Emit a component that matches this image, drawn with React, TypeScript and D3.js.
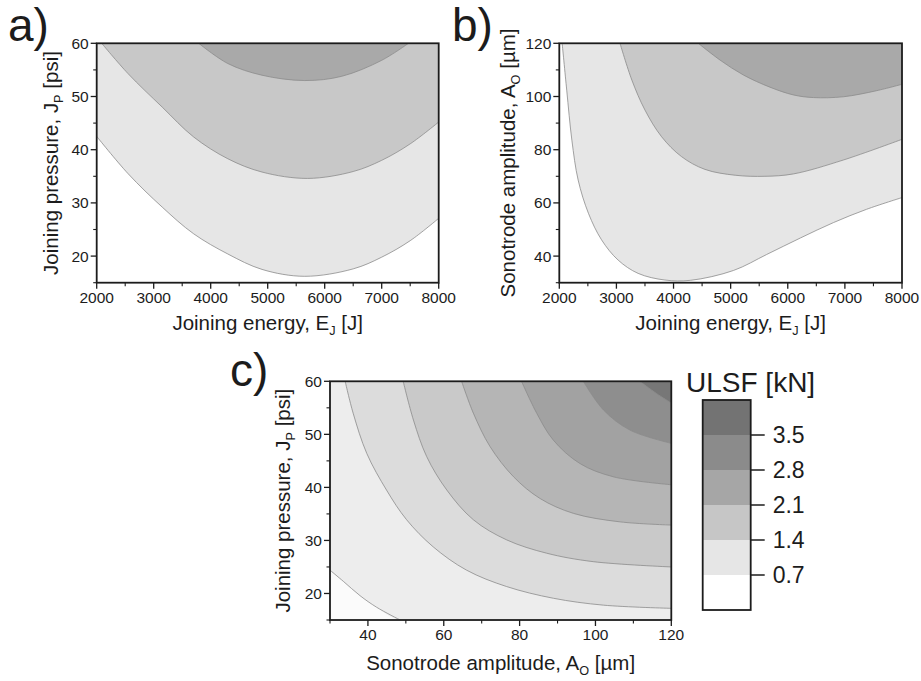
import React from "react";
import * as d3 from "d3";

type Pt = [number, number];

const FONT = "'Liberation Sans', Arial, Helvetica, sans-serif";
const INK = "#1c1c1c";

// ---- Iso-lines of ULSF, panel a: joining energy [J] vs joining pressure [psi]
const aIso07: Pt[] = [[2000, 42.5], [2550, 35.5], [3150, 29.2], [3700, 24.2], [4300, 20.4], [4900, 17.5], [5650, 16.2], [6500, 17.6], [7000, 19.8], [7500, 22.9], [8000, 27.1]];
const aIso14: Pt[] = [[2088, 60], [2550, 54.3], [3150, 48.0], [3700, 42.4], [4300, 38.3], [4900, 35.8], [5700, 34.6], [6500, 35.9], [7000, 38.0], [7500, 41.1], [8000, 45.2]];
const aIso21: Pt[] = [[3790, 60], [4300, 56.2], [4900, 54.0], [5650, 53.0], [6300, 53.8], [7000, 56.8], [7470, 60]];

// ---- panel b: joining energy [J] vs sonotrode amplitude [µm]
const bIso07: Pt[] = [[2050, 120], [2130, 102.4], [2220, 83.6], [2330, 68.6], [2510, 56.1], [2740, 46.1], [3030, 38.5], [3380, 33.5], [3850, 31.0], [4300, 30.9], [5050, 34.6], [5630, 40.6], [6220, 46.8], [6800, 52.6], [7380, 57.6], [8000, 62.0]];
const bIso14: Pt[] = [[3063, 120], [3270, 106.2], [3500, 94.9], [3790, 84.9], [4140, 77.4], [4550, 72.6], [5080, 70.4], [5600, 70.0], [6100, 70.9], [6970, 76.1], [8000, 83.9]];
const bIso21: Pt[] = [[4434, 120], [4814, 113.7], [5222, 108.1], [5689, 103.5], [6097, 100.6], [6448, 99.6], [6973, 99.9], [7558, 102.2], [8000, 104.6]];

// ---- panel c: sonotrode amplitude [µm] vs joining pressure [psi]
const cIso1: Pt[] = [[30, 24.4], [33.5, 22.3], [37.9, 19.6], [42.3, 17.4], [48.5, 15]];
const cIso2: Pt[] = [[34.0, 60], [36.1, 54.0], [39.7, 46.4], [44.9, 39.5], [50.2, 33.9], [57.2, 28.8], [66.0, 24.4], [76.6, 21.3], [88.9, 19.1], [102.1, 17.8], [120, 17.2]];
const cIso3: Pt[] = [[49.3, 60], [52.0, 52.7], [55.5, 45.8], [60.8, 39.5], [67.8, 33.9], [76.6, 30.1], [87.1, 27.6], [99.4, 26.0], [120, 25.0]];
const cIso4: Pt[] = [[64.7, 60], [67.8, 54.0], [72.2, 47.7], [78.4, 42.0], [85.4, 37.9], [94.2, 35.1], [106.5, 33.5], [120, 32.9]];
const cIso5: Pt[] = [[80.5, 60], [84.5, 54.0], [88.9, 48.9], [95.9, 44.5], [104.7, 42.0], [120, 40.5]];
const cIso6: Pt[] = [[96.8, 60], [102.1, 54.6], [109.1, 50.8], [120, 48.3]];
const cIso7: Pt[] = [[111.7, 60], [116.1, 57.7], [120, 55.9]];

// ---- axes
const energyTicks = [2000, 3000, 4000, 5000, 6000, 7000, 8000];
const pressureTicks = [20, 30, 40, 50, 60];
const amplitudeTicksB = [40, 60, 80, 100, 120];
const amplitudeTicksC = [40, 60, 80, 100, 120];

// ---- colour bar
const legendLevels = [0.7, 1.4, 2.1, 2.8, 3.5];
const legendLabels = ["0.7", "1.4", "2.1", "2.8", "3.5"];

// fills: background first, then the region beyond each iso-line
const abFills = ["#ffffff", "#e6e6e6", "#c8c8c8", "#a9a9a9"];
const cFills = ["#fbfbfb", "#ededed", "#dcdcdc", "#c9c9c9", "#b5b5b5", "#a2a2a2", "#8e8e8e", "#777777"];
const legendFills = ["#ffffff", "#e6e6e6", "#c6c6c6", "#a6a6a6", "#8b8b8b", "#737373"];

interface Box { l: number; t: number; r: number; b: number }

interface PanelProps {
  id: string;
  box: Box;
  xDomain: [number, number];
  yDomain: [number, number];
  xTicks: number[];
  xMinorStep: number;
  yTicks: number[];
  yMinorStep: number;
  iso: Pt[][];
  fills: string[];
  xTitle: React.ReactNode;
  yTitle: React.ReactNode;
  xTitleY: number;
  yTitleX: number;
  tag: string;
  tagX: number;
  tagY: number;
}

function Panel(p: PanelProps) {
  const { box } = p;
  const x = d3.scaleLinear().domain(p.xDomain).range([box.l, box.r]);
  const y = d3.scaleLinear().domain(p.yDomain).range([box.b, box.t]);
  const top = y(p.yDomain[1]);
  const curve = d3.curveCatmullRom.alpha(0.5);

  const area = d3
    .area<Pt>()
    .x((d) => x(d[0]))
    .y0(top)
    .y1((d) => y(d[1]))
    .curve(curve);
  const line = d3
    .line<Pt>()
    .x((d) => x(d[0]))
    .y((d) => y(d[1]))
    .curve(curve);

  // a line leaving through the bottom edge encloses everything to its right
  const closeShape = (pts: Pt[]): Pt[] => {
    const last = pts[pts.length - 1];
    if (last[1] <= p.yDomain[0] && last[0] < p.xDomain[1]) {
      return [...pts, [p.xDomain[1], p.yDomain[0]]];
    }
    return pts;
  };

  const xMinor = d3
    .range(p.xDomain[0], p.xDomain[1] + 1e-9, p.xMinorStep)
    .filter((v) => !p.xTicks.includes(v));
  const yMinor = d3
    .range(p.yDomain[0], p.yDomain[1] + 1e-9, p.yMinorStep)
    .filter((v) => !p.yTicks.includes(v));

  const cx = (box.l + box.r) / 2;
  const cy = (box.t + box.b) / 2;

  return (
    <g>
      <defs>
        <clipPath id={`clip-${p.id}`}>
          <rect x={box.l} y={box.t} width={box.r - box.l} height={box.b - box.t} />
        </clipPath>
      </defs>
      <g clipPath={`url(#clip-${p.id})`}>
        <rect x={box.l} y={box.t} width={box.r - box.l} height={box.b - box.t} fill={p.fills[0]} />
        {p.iso.map((pts, i) => (
          <path key={`f${i}`} d={area(closeShape(pts)) || ""} fill={p.fills[i + 1]} stroke="none" />
        ))}
        {p.iso.map((pts, i) => (
          <path key={`l${i}`} d={line(pts) || ""} fill="none" stroke="#8c8c8c" strokeWidth={0.8} />
        ))}
      </g>

      {/* ticks */}
      {p.xTicks.map((v) => (
        <line key={`xt${v}`} x1={x(v)} x2={x(v)} y1={box.b} y2={box.b + 6} stroke={INK} strokeWidth={1.3} />
      ))}
      {xMinor.map((v) => (
        <line key={`xm${v}`} x1={x(v)} x2={x(v)} y1={box.b} y2={box.b + 3.5} stroke={INK} strokeWidth={1.1} />
      ))}
      {p.yTicks.map((v) => (
        <line key={`yt${v}`} x1={box.l - 6} x2={box.l} y1={y(v)} y2={y(v)} stroke={INK} strokeWidth={1.3} />
      ))}
      {yMinor.map((v) => (
        <line key={`ym${v}`} x1={box.l - 3.5} x2={box.l} y1={y(v)} y2={y(v)} stroke={INK} strokeWidth={1.1} />
      ))}

      {/* tick labels */}
      {p.xTicks.map((v) => (
        <text key={`xl${v}`} x={x(v)} y={box.b + 20} textAnchor="middle" fontSize={15.5} fill={INK}>
          {v}
        </text>
      ))}
      {p.yTicks.map((v) => (
        <text key={`yl${v}`} x={box.l - 8} y={y(v)} dy="0.35em" textAnchor="end" fontSize={15.5} fill={INK}>
          {v}
        </text>
      ))}

      {/* frame */}
      <rect x={box.l} y={box.t} width={box.r - box.l} height={box.b - box.t} fill="none" stroke={INK} strokeWidth={1.8} />

      {/* axis titles */}
      <text x={cx} y={p.xTitleY} textAnchor="middle" fontSize={20.5} fill={INK}>
        {p.xTitle}
      </text>
      <text transform={`translate(${p.yTitleX},${cy}) rotate(-90)`} textAnchor="middle" fontSize={20.5} fill={INK}>
        {p.yTitle}
      </text>

      {/* panel tag */}
      <text x={p.tagX} y={p.tagY} fontSize={46} fill={INK}>
        {p.tag}
      </text>
    </g>
  );
}

function Sub({ children }: { children: React.ReactNode }) {
  return (
    <>
      <tspan dy={5} fontSize="0.62em">
        {children}
      </tspan>
      <tspan dy={-5}> </tspan>
    </>
  );
}

function ColorBar() {
  const box = { l: 702.7, t: 400, r: 750.7, b: 610 };
  const edges = [0, ...legendLevels, 4.2];
  const y = d3.scaleLinear().domain([0, 4.2]).range([box.b, box.t]);
  return (
    <g>
      <text x={686} y={392} fontSize={28} fill={INK}>
        ULSF [kN]
      </text>
      {legendFills.map((c, i) => (
        <rect
          key={i}
          x={box.l}
          y={y(edges[i + 1])}
          width={box.r - box.l}
          height={y(edges[i]) - y(edges[i + 1])}
          fill={c}
        />
      ))}
      <rect x={box.l} y={box.t} width={box.r - box.l} height={box.b - box.t} fill="none" stroke={INK} strokeWidth={1.8} />
      {legendLevels.map((v, i) => (
        <g key={v}>
          <line x1={box.r} x2={box.r + 14} y1={y(v)} y2={y(v)} stroke={INK} strokeWidth={1.5} />
          <text x={box.r + 22} y={y(v)} dy="0.36em" fontSize={23} fill={INK}>
            {legendLabels[i]}
          </text>
        </g>
      ))}
    </g>
  );
}

export default function App() {
  return (
    <svg
      width={921}
      height={681}
      viewBox="0 0 921 681"
      style={{ position: "absolute", left: 0, top: 0, background: "#ffffff", fontFamily: FONT }}
    >
      <rect x={0} y={0} width={921} height={681} fill="#ffffff" />
      <Panel
        id="a"
        box={{ l: 96.7, t: 43.3, r: 438.7, b: 282.7 }}
        xDomain={[2000, 8000]}
        yDomain={[15, 60]}
        xTicks={energyTicks}
        xMinorStep={500}
        yTicks={pressureTicks}
        yMinorStep={5}
        iso={[aIso07, aIso14, aIso21]}
        fills={abFills}
        xTitle={<>Joining energy, E<Sub>J</Sub>[J]</>}
        yTitle={<>Joining pressure, J<Sub>P</Sub>[psi]</>}
        xTitleY={330}
        yTitleX={58}
        tag="a)"
        tagX={8}
        tagY={41}
      />
      <Panel
        id="b"
        box={{ l: 559.3, t: 43.3, r: 902, b: 282.7 }}
        xDomain={[2000, 8000]}
        yDomain={[30, 120]}
        xTicks={energyTicks}
        xMinorStep={500}
        yTicks={amplitudeTicksB}
        yMinorStep={10}
        iso={[bIso07, bIso14, bIso21]}
        fills={abFills}
        xTitle={<>Joining energy, E<Sub>J</Sub>[J]</>}
        yTitle={<>Sonotrode amplitude, A<Sub>O</Sub>[µm]</>}
        xTitleY={330}
        yTitleX={515}
        tag="b)"
        tagX={452}
        tagY={41}
      />
      <Panel
        id="c"
        box={{ l: 330, t: 381.3, r: 671.3, b: 620 }}
        xDomain={[30, 120]}
        yDomain={[15, 60]}
        xTicks={amplitudeTicksC}
        xMinorStep={10}
        yTicks={pressureTicks}
        yMinorStep={5}
        iso={[cIso1, cIso2, cIso3, cIso4, cIso5, cIso6, cIso7]}
        fills={cFills}
        xTitle={<>Sonotrode amplitude, A<Sub>O</Sub>[µm]</>}
        yTitle={<>Joining pressure, J<Sub>P</Sub>[psi]</>}
        xTitleY={670}
        yTitleX={290}
        tag="c)"
        tagX={230}
        tagY={386}
      />
      <ColorBar />
    </svg>
  );
}
